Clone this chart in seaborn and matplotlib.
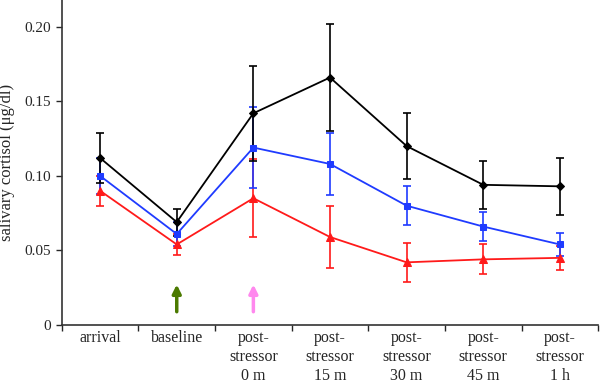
import pandas as pd
import matplotlib
matplotlib.use("Agg")
import matplotlib.pyplot as plt
import seaborn as sns
import numpy as np

# salivary cortisol over the session, three groups

timepoints = ["arrival", "baseline", "post-\nstressor\n0 m", "post-\nstressor\n15 m",
              "post-\nstressor\n30 m", "post-\nstressor\n45 m", "post-\nstressor\n1 h"]

black_mean = [0.112, 0.069, 0.142, 0.166, 0.120, 0.094, 0.093]
black_err = [0.017, 0.009, 0.032, 0.036, 0.022, 0.016, 0.019]
blue_mean = [0.100, 0.061, 0.119, 0.108, 0.080, 0.066, 0.054]
blue_err = [0.012, 0.008, 0.027, 0.021, 0.013, 0.010, 0.008]
red_mean = [0.090, 0.054, 0.085, 0.059, 0.042, 0.044, 0.045]
red_err = [0.010, 0.007, 0.026, 0.021, 0.013, 0.010, 0.008]

series = ["black", "blue", "red"]
arrow_points = ["baseline", "post-\nstressor\n0 m"]

sns.set_style("white")
plt.rcParams['font.family'] = ['Liberation Serif', 'DejaVu Serif']

x = np.arange(len(timepoints))
df = pd.DataFrame({
    'x': np.tile(x, 3),
    'cortisol': black_mean + blue_mean + red_mean,
    'err': black_err + blue_err + red_err,
    'group': np.repeat(series, len(timepoints)),
})

colors = {"black": "#000000", "blue": "#1f3bff", "red": "#ff1a1a"}
markers = {"black": "D", "blue": "s", "red": "^"}
sizes = {"black": 4, "blue": 5, "red": 6}

fig = plt.figure(figsize=(6, 3.85), dpi=100)
ax = fig.add_axes([0.103, 0.156, 0.894, 0.844])

for g in ["red", "blue", "black"]:
    d = df[df.group == g]
    ax.errorbar(d.x, d.cortisol, yerr=d.err, fmt='none', ecolor=colors[g],
                elinewidth=1.2, capsize=3, capthick=1.2, zorder=2)
    sns.lineplot(data=d, x='x', y='cortisol', color=colors[g], marker=markers[g],
                 markersize=sizes[g], markeredgecolor=colors[g], linewidth=1.3,
                 ax=ax, zorder=3)

for label, c in zip(arrow_points, ["#4b7a00", "#ff88ee"]):
    xi = timepoints.index(label)
    ax.annotate("", xy=(xi, 0.029), xytext=(xi, 0.007),
                arrowprops=dict(arrowstyle="-|>,head_length=0.5,head_width=0.25",
                                color=c, lw=2.5))

ax.set_xlim(-0.5, 6.5)
ax.set_ylim(0, 0.218)
ax.set_yticks([0, 0.05, 0.10, 0.15, 0.20])
ax.set_yticklabels(["0", "0.05", "0.10", "0.15", "0.20"])
ax.set_xticks(x)
ax.set_xticklabels(timepoints, linespacing=1.22)
ax.set_xticks(np.arange(-0.5, 7, 1), minor=True)
ax.tick_params(axis='x', which='major', length=0, pad=4, labelsize=11.5)
ax.tick_params(axis='x', which='minor', length=4, width=1, direction='out', bottom=True)
ax.tick_params(axis='y', length=4, width=1, direction='out', left=True, labelsize=11)
ax.set_xlabel("")
ax.set_ylabel("salivary cortisol (μg/dl)", fontsize=12)
ax.yaxis.set_label_coords(-0.088, 0.5)

sns.despine(ax=ax)
for s in ["left", "bottom"]:
    ax.spines[s].set_color("#333333")
    ax.spines[s].set_linewidth(1.2)

fig.savefig("out.png", dpi=100)
